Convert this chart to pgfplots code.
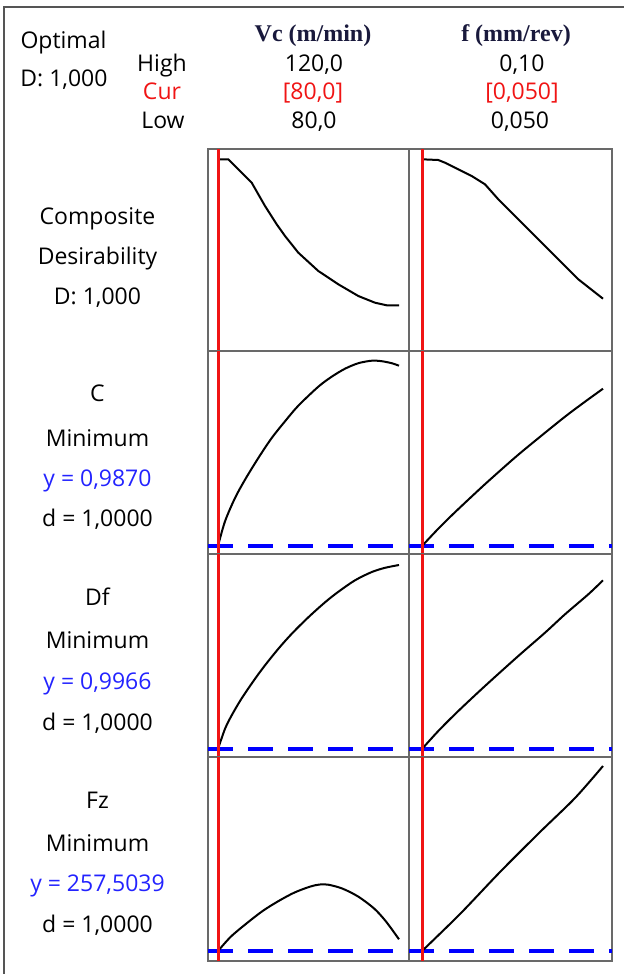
\documentclass[border=0pt]{standalone}
\usepackage{pgfplots}
\pgfplotsset{compat=1.18}
\usepackage{fontspec}
\setmainfont{Open Sans}
\newfontfamily\hdr{Liberation Serif}
\definecolor{panelgray}{RGB}{105,105,105}
\definecolor{curred}{RGB}{240,20,20}
\definecolor{ylab}{RGB}{35,35,255}
\definecolor{hdrcol}{RGB}{25,25,60}
\definecolor{framegray}{RGB}{85,85,85}
\newcommand\lab{\fontsize{23bp}{27bp}\selectfont}
\pgfplotsset{
 panel/.style={scale only axis, anchor=north west, ticks=none,
   axis line style={draw=panelgray, line width=2.6bp}},
 Lx/.style={xmin=77.79, xmax=122.21, width=201bp},
 Rx/.style={xmin=0.046409, xmax=0.102486, width=203bp},
 curve/.style={black, line width=2bp, line join=round},
 scurve/.style={black, line width=2bp, line join=round, smooth, tension=0.5},
 redl/.style={curred, line width=3bp},
 bdash/.style={blue, line width=3.3bp, dash pattern=on 24.6bp off 15.4bp},
}
\begin{document}
\begin{tikzpicture}
\useasboundingbox (0,0) rectangle (624bp,-974bp);
% ---------- Row 1: composite desirability ----------
\begin{axis}[panel, Lx, at={(208bp,-149bp)}, height=202bp, ymin=0.0415, ymax=1.0515]
\addplot[curve] coordinates {(80,1.000) (82.28,1.000) (87.45,0.883) (88.91,0.825) (90.39,0.7665) (92.97,0.675) (94.81,0.6165) (97.75,0.533) (102.17,0.4415) (106.59,0.375) (111.01,0.3165) (114.70,0.283) (117.28,0.270) (120,0.270)};
\addplot[redl] coordinates {(80,0.0415) (80,1.0515)};
\end{axis}
\begin{axis}[panel, Rx, at={(409bp,-149bp)}, height=202bp, ymin=0.0415, ymax=1.0515]
\addplot[curve] coordinates {(0.0500,1.000) (0.0545,0.9965) (0.05635,0.983) (0.06003,0.950) (0.06373,0.9165) (0.06740,0.875) (0.07108,0.800) (0.07660,0.700) (0.08213,0.600) (0.08765,0.500) (0.09318,0.400) (0.1000,0.303)};
\addplot[redl] coordinates {(0.05,0.0415) (0.05,1.0515)};
\end{axis}
% ---------- Row 2: C ----------
\begin{axis}[panel, Lx, at={(208bp,-351bp)}, height=203bp, ymin=0.907, ymax=2.937]
\addplot[bdash] coordinates {(77.79,0.987) (122.21,0.987)};
\addplot[scurve] coordinates {(80,0.987) (81.55,1.234) (83.76,1.467) (85.97,1.650) (88.91,1.867) (91.87,2.067) (94.81,2.234) (97.75,2.390) (102.17,2.580) (105.13,2.680) (108.07,2.760) (111.01,2.815) (113.97,2.840) (116.18,2.835) (118.39,2.815) (120,2.790)};
\addplot[redl] coordinates {(80,0.907) (80,2.937)};
\end{axis}
\begin{axis}[panel, Rx, at={(409bp,-351bp)}, height=203bp, ymin=0.907, ymax=2.937]
\addplot[bdash] coordinates {(0.046409,0.987) (0.102486,0.987)};
\addplot[scurve] coordinates {(0.0500,0.987) (0.0545,1.160) (0.05912,1.325) (0.06649,1.575) (0.07202,1.755) (0.07660,1.900) (0.08213,2.065) (0.08950,2.280) (0.09503,2.430) (0.1000,2.560)};
\addplot[redl] coordinates {(0.05,0.907) (0.05,2.937)};
\end{axis}
% ---------- Row 3: Df ----------
\begin{axis}[panel, Lx, at={(208bp,-554bp)}, height=203bp, ymin=0.9806, ymax=1.3866]
\addplot[bdash] coordinates {(77.79,0.9966) (122.21,0.9966)};
\addplot[scurve] coordinates {(80,0.9966) (81.55,1.0370) (83.03,1.0640) (85.24,1.0980) (88.18,1.1370) (90.39,1.1640) (93.33,1.1970) (96.29,1.2270) (99.96,1.2600) (103.65,1.2900) (106.59,1.3110) (110.28,1.3340) (113.97,1.3505) (116.91,1.3590) (120,1.3646)};
\addplot[redl] coordinates {(80,0.9806) (80,1.3866)};
\end{axis}
\begin{axis}[panel, Rx, at={(409bp,-554bp)}, height=203bp, ymin=0.9806, ymax=1.3866]
\addplot[bdash] coordinates {(0.046409,0.9966) (0.102486,0.9966)};
\addplot[scurve] coordinates {(0.05,0.9966) (0.0545,1.0326) (0.06003,1.0726) (0.06740,1.1226) (0.07660,1.1826) (0.08398,1.2292) (0.08950,1.2660) (0.09594,1.3060) (0.1000,1.3340)};
\addplot[redl] coordinates {(0.05,0.9806) (0.05,1.3866)};
\end{axis}
% ---------- Row 4: Fz ----------
\begin{axis}[panel, Lx, at={(208bp,-757bp)}, height=204bp, ymin=247.5, ymax=451.5]
\addplot[bdash] coordinates {(77.79,257.5039) (122.21,257.5039)};
\addplot[scurve] coordinates {(80,257.5) (82.83,271.8) (86.34,285.2) (89.86,297.5) (93.39,307.5) (96.91,316.0) (100.42,322.0) (102.5,324.0) (104.38,323.8) (107.45,320.0) (110.96,312.0) (114.50,300.0) (117.13,287.0) (120,269.2)};
\addplot[redl] coordinates {(80,247.5) (80,451.5)};
\end{axis}
\begin{axis}[panel, Rx, at={(409bp,-757bp)}, height=204bp, ymin=247.5, ymax=451.5]
\addplot[bdash] coordinates {(0.046409,257.5039) (0.102486,257.5039)};
\addplot[scurve] coordinates {(0.05,257.5) (0.0605,294.5) (0.07155,336.5) (0.0826,376.5) (0.09227,410.5) (0.1,442.5)};
\addplot[redl] coordinates {(0.05,247.5) (0.05,451.5)};
\end{axis}
% ---------- texts and frame ----------
\begin{scope}[x=1bp, y=-1bp, every node/.style={anchor=base, inner sep=0pt, font=\lab}]
\draw[framegray, line width=1.8bp] (4,974) -- (4,7) -- (624,7);
\node at (63.5,48) {Optimal};
\node at (64,86) {D: 1,000};
\node at (162,71) {High};
\node[text=curred] at (162,99) {Cur};
\node at (163,128) {Low};
\node[font=\hdr\bfseries\fontsize{24bp}{28bp}\selectfont, text=hdrcol] at (313,41) {Vc (m/min)};
\node[font=\hdr\bfseries\fontsize{24bp}{28bp}\selectfont, text=hdrcol] at (516,41) {f (mm/rev)};
\node at (314,71) {120,0};
\node[text=curred] at (313,99) {[80,0]};
\node at (314,128) {80,0};
\node at (522,71) {0,10};
\node[text=curred] at (522,99) {[0,050]};
\node at (520,128) {0,050};
\node at (97.5,224) {Composite};
\node at (97.5,264) {Desirability};
\node at (97.5,304) {D: 1,000};
\node at (97.5,401) {C};
\node at (97.5,446) {Minimum};
\node[text=ylab] at (97.5,486) {y = 0,9870};
\node at (97.5,526) {d = 1,0000};
\node at (97.5,605) {Df};
\node at (97.5,648) {Minimum};
\node[text=ylab] at (97.5,689) {y = 0,9966};
\node at (97.5,730) {d = 1,0000};
\node at (97.5,808) {Fz};
\node at (97.5,851) {Minimum};
\node[text=ylab] at (97.5,891) {y = 257,5039};
\node at (97.5,932) {d = 1,0000};
\end{scope}
\end{tikzpicture}
\end{document}
